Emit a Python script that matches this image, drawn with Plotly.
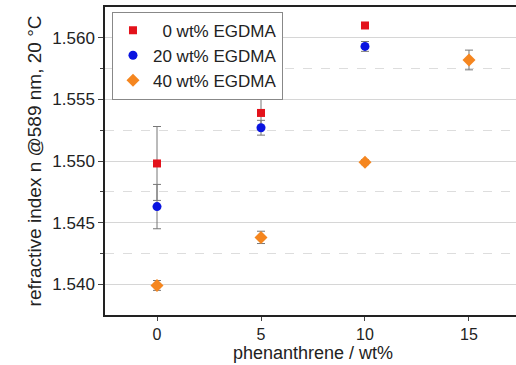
import plotly.graph_objects as go

phen = [0, 5, 10, 15]
n0 = [1.5498, 1.5539, 1.5610]
e0 = [0.0030, 0.0011, 0.0001]
n20 = [1.5463, 1.5527, 1.5593]
e20 = [0.0018, 0.0006, 0.0004]
n40 = [1.5399, 1.5438, 1.5499, 1.5582]
e40 = [0.0004, 0.0005, 0.0002, 0.0008]

names = ["  0 wt% EGDMA", "20 wt% EGDMA", "40 wt% EGDMA"]
colors = ["#e3121b", "#0a14e0", "#f5861f"]
symbols = ["square", "circle", "diamond"]
sizes = [8, 9, 10]

fig = go.Figure()
for name, ys, es, c, s, sz in zip(names, [n0, n20, n40], [e0, e20, e40], colors, symbols, sizes):
    fig.add_trace(go.Scatter(
        x=phen[:len(ys)], y=ys, mode="markers", name=name,
        marker=dict(color=c, symbol=s, size=sz),
        error_y=dict(type="data", array=es, color="#777777", thickness=1, width=4),
    ))

font = "Liberation Sans, Arial, sans-serif"
fig.update_layout(
    width=516, height=365,
    margin=dict(l=105, r=0, t=7, b=50),
    paper_bgcolor="white", plot_bgcolor="white",
    font=dict(family=font, size=17, color="#222222"),
    showlegend=True,
    legend=dict(x=0.017, y=0.985, xanchor="left", yanchor="top",
                bordercolor="#888888", borderwidth=1, bgcolor="white",
                font=dict(size=17), itemwidth=30, tracegroupgap=0),
    xaxis=dict(range=[-2.5, 17.26], tickvals=[0, 5, 10, 15], ticks="outside", ticklen=4,
               tickfont=dict(size=16),
               showline=True, linecolor="#222222", linewidth=1.5, mirror=True,
               showgrid=False, zeroline=False),
    yaxis=dict(range=[1.5375, 1.5625], tickvals=[1.540, 1.545, 1.550, 1.555, 1.560],
               tickformat=".3f", ticks="outside", ticklen=5,
               showline=True, linecolor="#222222", linewidth=1.5,
               showgrid=True, gridcolor="#d6d6d6", gridwidth=1, zeroline=False,
               minor=dict(tickvals=[1.5425, 1.5475, 1.5525, 1.5575], ticks="outside", ticklen=3,
                          showgrid=True, gridcolor="#dddddd", griddash="dash", gridwidth=1),
               title=dict(text="refractive index n @589 nm, 20 °C", standoff=6, font=dict(size=19))),
    annotations=[dict(text="phenanthrene / wt%", xref="x", yref="paper", x=7.5, y=0,
                      yshift=-50, yanchor="bottom", xanchor="center", showarrow=False,
                      font=dict(size=18, color="#222222"))],
)
fig.write_html("out.html")
